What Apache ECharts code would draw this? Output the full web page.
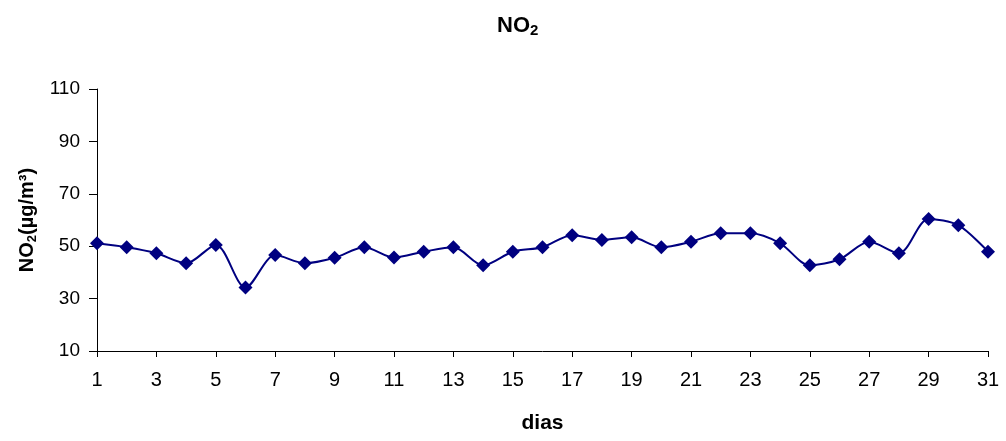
<!DOCTYPE html>
<html><head><meta charset="utf-8">
<script src="https://cdn.jsdelivr.net/npm/echarts@6/dist/echarts.min.js"></script>
<style>html,body{margin:0;padding:0;background:#fff}#c{width:1006px;height:441px}</style>
</head><body><div id="c"></div>
<script>
const days = [1,2,3,4,5,6,7,8,9,10,11,12,13,14,15,16,17,18,19,20,21,22,23,24,25,26,27,28,29,30,31];
const no2 = [51.1,49.6,47.3,43.5,50.5,34.2,46.6,43.5,45.6,49.6,45.7,47.9,49.6,42.7,47.9,49.6,54.2,52.4,53.4,49.6,51.7,54.9,54.9,51.1,42.7,45.0,51.7,47.3,60.4,58.0,47.9];
const yTicks = [10,30,50,70,90,110];
const xTicks = [1,3,5,7,9,11,13,15,17,19,21,23,25,27,29,31];

const chart = echarts.init(document.getElementById('c'));
const font = 'Liberation Sans, Arial, sans-serif';
chart.setOption({
  animation:false,
  title:{
    text:'{a|NO}{b|2}', left:492, top:9,
    textStyle:{rich:{
      a:{fontFamily:font,fontWeight:'bold',fontSize:22,color:'#000'},
      b:{fontFamily:font,fontWeight:'bold',fontSize:15,color:'#000',verticalAlign:'bottom',padding:[9,0,0,0]}
    }}
  },
  grid:{left:97,right:18,top:89,bottom:90},
  xAxis:{
    type:'value',min:1,max:31,interval:2,
    name:'dias',nameLocation:'middle',nameGap:62,
    nameTextStyle:{fontFamily:font,fontWeight:'bold',fontSize:21,color:'#000'},
    axisLine:{lineStyle:{color:'#000',width:1}},
    axisTick:{show:true,length:6,lineStyle:{color:'#000'}},
    axisLabel:{fontFamily:font,fontSize:20,color:'#000',margin:19,
      formatter:v=>xTicks.includes(v)?String(v):''},
    splitLine:{show:false}
  },
  yAxis:{
    type:'value',min:10,max:110,interval:20,
    name:'{a|NO}{b|2}{a|(µg/m³)}',nameLocation:'middle',nameGap:57,
    nameTextStyle:{rich:{
      a:{fontFamily:font,fontWeight:'bold',fontSize:20,color:'#000'},
      b:{fontFamily:font,fontWeight:'bold',fontSize:13,color:'#000',verticalAlign:'bottom',padding:[9,0,0,0]}
    }},
    axisLine:{show:true,lineStyle:{color:'#000',width:1}},
    axisTick:{show:true,length:8,lineStyle:{color:'#000'}},
    axisLabel:{fontFamily:font,fontSize:19,color:'#000',margin:17,
      formatter:v=>yTicks.includes(v)?String(v):''},
    splitLine:{show:false}
  },
  series:[{
    type:'line',
    data:days.map((d,i)=>[d,no2[i]]),
    smooth:0.3,
    symbol:'diamond',symbolSize:14,
    lineStyle:{color:'#000080',width:2},
    itemStyle:{color:'#000080'}
  }]
});
</script></body></html>
